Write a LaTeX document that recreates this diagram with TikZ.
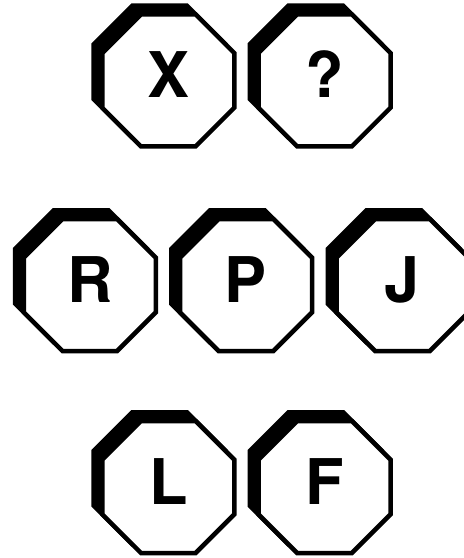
\documentclass[tikz,border=0pt]{standalone}
\usepackage{fontspec}
\setmainfont{TeX Gyre Heros}
\tikzset{
  octline/.style={line width=4.5pt, line join=miter, draw=black},
  glyph/.style={font=\fontsize{63}{63}\selectfont\bfseries, inner sep=0pt, anchor=base},
}
\begin{document}
\begin{tikzpicture}[x=1pt,y=-1pt]
\useasboundingbox[fill=white] (0,0) rectangle (464,558);
\clip (0,0) rectangle (464,558);
\foreach \cx/\cy/\t/\nm in {168.3/80.4/X/X, 324.5/80.4/?/q,
  89.8/285/R/R, 246/285/P/P, 402.5/285/J/J,
  168.3/487/L/L, 324.5/487/F/F}{
  \begin{scope}[shift={(\cx,\cy)}]
    \coordinate (o\nm) at (0,0);
    \begin{scope}[shift={(-8.7,-8.7)}]
      \draw[octline, fill=black] (-27.34,-66) -- (27.34,-66) -- (66,-27.34) -- (66,27.34) -- (27.34,66) -- (-27.34,66) -- (-66,27.34) -- (-66,-27.34) -- cycle;
    \end{scope}
    \draw[octline, fill=white] (-27.34,-66) -- (27.34,-66) -- (66,-27.34) -- (66,27.34) -- (27.34,66) -- (-27.34,66) -- (-66,27.34) -- (-66,-27.34) -- cycle;
    \node[glyph] (\nm) at (0,17) {\t};
  \end{scope}
}
\end{tikzpicture}
\end{document}
